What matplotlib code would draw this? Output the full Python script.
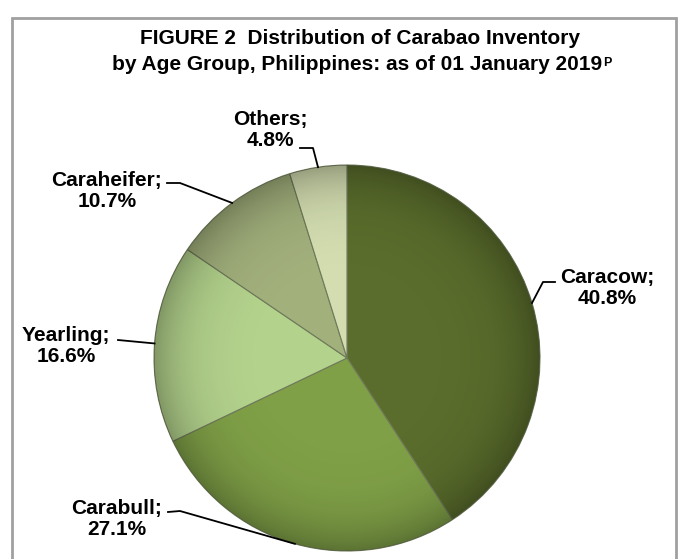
import numpy as np
import matplotlib
matplotlib.use('Agg')
import matplotlib.pyplot as plt
from matplotlib.patches import Rectangle, Circle

plt.rcParams['font.family'] = ['Liberation Sans', 'DejaVu Sans']

# data
groups = ["Caracow", "Carabull", "Yearling", "Caraheifer", "Others"]
shares = [40.8, 27.1, 16.6, 10.7, 4.8]
colors = ["#5a6d2c", "#80a047", "#b3d28c", "#a2b07c", "#d3ddb0"]

# label block centres (pixel coords, y from top)
label_pos = [(607, 288), (117, 519), (66, 346), (107, 191), (270, 130)]
# elbow of each leader line and the end next to the text
elbow = [(543, 282), (180, 511), (118, 340), (180, 183), (313, 148)]
tail = [(555, 282), (168, 512), (118, 340), (167, 183), (300, 148)]

W, H = 679, 559
fig = plt.figure(figsize=(6.79, 5.59), dpi=100)
ax = fig.add_axes([0, 0, 1, 1])

cx, cy, R = 347, H - 358, 193
wedges, _ = ax.pie(shares, colors=colors, startangle=90, counterclock=False,
                   center=(cx, cy), radius=R,
                   wedgeprops=dict(edgecolor="#6f7a5a", linewidth=0.8))
ax.set_xlim(0, W)
ax.set_ylim(0, H)
ax.set_aspect('equal')
ax.axis('off')

# soft darkening towards the rim
n = 400
xx, yy = np.meshgrid(np.linspace(-1, 1, n), np.linspace(-1, 1, n))
rr = np.sqrt(xx ** 2 + yy ** 2)
shade = np.zeros((n, n, 4))
shade[..., 3] = np.clip(0.28 * rr ** 6, 0, 0.28)
img = ax.imshow(shade, extent=(cx - R, cx + R, cy - R, cy + R), zorder=3)
clip = Circle((cx, cy), R, transform=ax.transData)
img.set_clip_path(clip)
ax.set_xlim(0, W)
ax.set_ylim(0, H)

# outer frame
ax.add_patch(Rectangle((12, -10), 664, H - 18 + 10, fill=False,
                       edgecolor="#a0a0a0", linewidth=2, zorder=5))

for w, name, val, (tx, ty), (ex, ey), (sx, sy) in zip(wedges, groups, shares,
                                                       label_pos, elbow, tail):
    ang = np.deg2rad((w.theta1 + w.theta2) / 2)
    px = cx + R * np.cos(ang)
    py = cy + R * np.sin(ang)
    ax.plot([sx, ex, px], [H - sy, H - ey, py], color="black", lw=1.3, zorder=4)
    ax.text(tx, H - ty, f"{name};\n{val:.1f}%", ha="center", va="center",
            fontsize=15, fontweight="bold", linespacing=1.15, zorder=6)

ax.text(360, H - 38, "FIGURE 2  Distribution of Carabao Inventory",
        ha="center", va="center", fontsize=15, fontweight="bold")
t2 = ax.text(357, H - 65, "by Age Group, Philippines: as of 01 January 2019",
             ha="center", va="center", fontsize=15, fontweight="bold")
fig.canvas.draw()
bb = t2.get_window_extent()
ax.text(bb.x1 + 1, bb.y1 - 1, "P", ha="left", va="top", fontsize=9,
        fontweight="bold", transform=None)

fig.savefig("out.png", dpi=100)
